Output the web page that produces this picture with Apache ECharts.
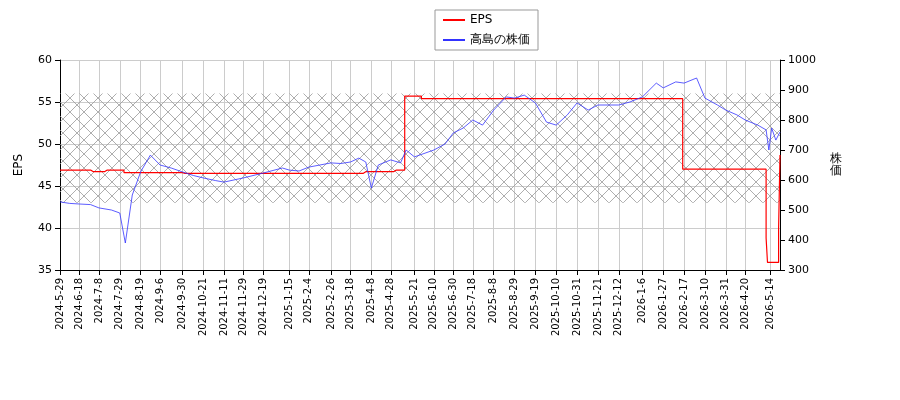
<!DOCTYPE html>
<html>
<head>
<meta charset="utf-8">
<script src="https://cdn.jsdelivr.net/npm/echarts@6/dist/echarts.min.js"></script>
<style>body{margin:0}#c{width:900px;height:400px}</style>
</head>
<body>
<div id="c"></div>
<script>
var startDate = '2024-05-29';
var endDate = '2026-05-25';
var tickLabels = ['2024-5-29','2024-6-18','2024-7-8','2024-7-29','2024-8-19','2024-9-6','2024-9-30','2024-10-21','2024-11-11','2024-11-29','2024-12-19','2025-1-15','2025-2-4','2025-2-26','2025-3-18','2025-4-8','2025-4-28','2025-5-21','2025-6-10','2025-6-30','2025-7-18','2025-8-8','2025-8-29','2025-9-19','2025-10-10','2025-10-31','2025-11-21','2025-12-12','2026-1-6','2026-1-27','2026-2-17','2026-3-10','2026-3-31','2026-4-20','2026-5-14'];
// [date, price]
var pricePoints = [
  ['2024-5-29',527],['2024-6-7',522],['2024-6-18',520],['2024-6-28',518],['2024-7-8',507],['2024-7-19',500],
  ['2024-7-29',490],['2024-8-2',390],['2024-8-9',550],['2024-8-19',627],['2024-8-28',683],['2024-9-6',650],
  ['2024-9-18',640],['2024-9-30',627],['2024-10-10',615],['2024-10-21',607],['2024-11-1',598],['2024-11-11',593],
  ['2024-11-29',607],['2024-12-19',623],['2025-1-8',640],['2025-1-15',633],['2025-1-24',630],['2025-2-4',643],
  ['2025-2-14',650],['2025-2-26',657],['2025-3-7',655],['2025-3-18',660],['2025-3-26',673],['2025-4-2',660],
  ['2025-4-8',573],['2025-4-15',650],['2025-4-28',667],['2025-5-7',657],['2025-5-13',700],['2025-5-21',677],
  ['2025-6-10',700],['2025-6-20',720],['2025-6-30',757],['2025-7-9',773],['2025-7-18',800],['2025-7-29',783],
  ['2025-8-8',833],['2025-8-21',877],['2025-8-29',873],['2025-9-9',883],['2025-9-19',857],['2025-10-1',793],
  ['2025-10-10',783],['2025-10-22',817],['2025-10-31',857],['2025-11-12',833],['2025-11-21',850],['2025-12-12',850],
  ['2025-12-24',860],['2026-1-6',877],['2026-1-20',923],['2026-1-27',907],['2026-2-9',927],['2026-2-17',923],
  ['2026-3-2',940],['2026-3-10',873],['2026-3-23',850],['2026-3-31',833],['2026-4-10',817],['2026-4-20',800],
  ['2026-5-1',783],['2026-5-11',767],['2026-5-13',700],['2026-5-15',773],['2026-5-20',733],['2026-5-25',760]
];
// [date from which value holds, eps]
var epsSteps = [
  ['2024-5-29',46.9],['2024-7-1',46.7],['2024-7-15',46.9],['2024-8-1',46.6],['2024-10-1',46.5],['2024-12-1',46.7],
  ['2025-2-1',46.6],['2025-4-1',46.7],['2025-4-30',46.9],['2025-5-12',55.7],['2025-5-28',55.4],['2026-2-16',47.0],
  ['2026-5-11',38.8],['2026-5-12',35.9],['2026-5-22',40.0],['2026-5-25',48.7]
];

function fmt(d) { return d.getFullYear() + '-' + (d.getMonth() + 1) + '-' + d.getDate(); }
function norm(s) { var p = s.split('-'); return +p[0] + '-' + (+p[1]) + '-' + (+p[2]); }
var dates = [];
for (var t = new Date(startDate + 'T00:00:00'); t <= new Date(endDate + 'T00:00:00'); t.setDate(t.getDate() + 1)) {
  var wd = t.getDay();
  if (wd !== 0 && wd !== 6) dates.push(fmt(t));
}
var priceMap = {};
pricePoints.forEach(function (p) { priceMap[norm(p[0])] = p[1]; });
var priceData = dates.map(function (d) { return priceMap[d] === undefined ? null : priceMap[d]; });
var epsMap = {};
epsSteps.forEach(function (p) { epsMap[norm(p[0])] = p[1]; });
var cur = null;
var epsData = dates.map(function (d) { if (epsMap[d] !== undefined) cur = epsMap[d]; return cur; });
var tickSet = {};
tickLabels.forEach(function (l) { tickSet[l] = true; });

// 網掛けパターン
var cv = document.createElement('canvas');
cv.width = 14; cv.height = 14;
var cx = cv.getContext('2d');
cx.strokeStyle = '#999'; cx.lineWidth = 0.8;
cx.beginPath(); cx.moveTo(0, 0); cx.lineTo(14, 14); cx.moveTo(14, 0); cx.lineTo(0, 14); cx.stroke();

var chart = echarts.init(document.getElementById('c'));
var showTick = function (i, v) { return !!tickSet[v]; };
chart.setOption({
  animation: false,
  textStyle: { fontFamily: 'DejaVu Sans' },
  legend: {
    top: 10, left: 435, orient: 'vertical', borderColor: '#999', borderWidth: 1, borderRadius: 0,
    padding: [4, 8], itemWidth: 22, itemHeight: 2, itemGap: 8,
    textStyle: { fontSize: 12, color: '#000' },
    data: [{ name: 'EPS', icon: 'rect' }, { name: '高島の株価', icon: 'rect' }]
  },
  grid: { left: 60, right: 120, top: 60, bottom: 130 },
  xAxis: {
    type: 'category', data: dates, boundaryGap: false,
    axisLine: { lineStyle: { color: '#000' } },
    axisTick: { interval: showTick, lineStyle: { color: '#000' } },
    axisLabel: { interval: showTick, rotate: 90, fontSize: 10, color: '#000' },
    splitLine: { show: true, interval: showTick, lineStyle: { color: '#ccc' } }
  },
  yAxis: [{
    type: 'value', min: 35, max: 60, interval: 5, name: 'EPS', nameLocation: 'middle', nameGap: 35,
    nameTextStyle: { color: '#000', fontSize: 12 },
    axisLine: { show: true, lineStyle: { color: '#000' } }, axisTick: { show: true },
    axisLabel: { color: '#000', fontSize: 11 },
    splitLine: { lineStyle: { color: '#ccc' } }
  }, {
    type: 'value', min: 300, max: 1000, interval: 100, name: '株\n価', nameLocation: 'middle', nameGap: 50,
    nameRotate: 0, nameTextStyle: { color: '#000', fontSize: 12 },
    axisLine: { show: true, lineStyle: { color: '#000' } }, axisTick: { show: true },
    axisLabel: { color: '#000', fontSize: 11, formatter: function (v) { return String(v); } },
    splitLine: { show: false }
  }],
  series: [{
    name: 'EPS', type: 'line', data: epsData, yAxisIndex: 0, step: 'end', showSymbol: false,
    lineStyle: { color: '#ff0000', width: 1.2 }, itemStyle: { color: '#ff0000' },
    markArea: {
      silent: true,
      itemStyle: { color: { image: cv, repeat: 'repeat' } },
      data: [[{ yAxis: 43 }, { yAxis: 56 }]]
    }
  }, {
    name: '高島の株価', type: 'line', data: priceData, yAxisIndex: 1, connectNulls: true, showSymbol: false,
    lineStyle: { color: '#3333ff', width: 0.8 }, itemStyle: { color: '#3333ff' }
  }]
});
</script>
</body>
</html>
